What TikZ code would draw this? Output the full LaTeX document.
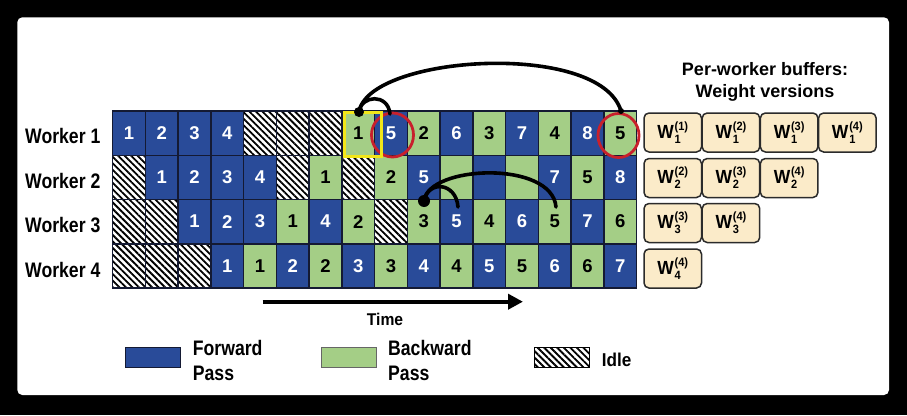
\documentclass[tikz,border=0pt]{standalone}
\usepackage{fontspec}
\setmainfont{Liberation Sans}
\newfontfamily\cond[FakeStretch=0.84]{Liberation Sans}
\newfontfamily\condm[FakeStretch=0.92]{Liberation Sans}
\usetikzlibrary{patterns.meta,arrows.meta,shapes.geometric}
\definecolor{fwd}{HTML}{294B99}
\definecolor{bwd}{HTML}{A4CE86}
\definecolor{gridc}{HTML}{141A33}
\definecolor{bufc}{HTML}{FBEBC9}
\definecolor{bufline}{HTML}{2B2B2B}
\definecolor{redc}{HTML}{C8202C}
\definecolor{yel}{HTML}{F2E619}
\newcommand\wv[2]{W\kern0.8pt\raisebox{-5pt}{\makebox[0pt][l]{\fontsize{12}{12}\selectfont#1}}\raisebox{8pt}{\fontsize{12}{12}\selectfont(#2)}}
\begin{document}
\begin{tikzpicture}[x=1pt,y=-1pt,
  cell/.style={draw=gridc,line width=1.5pt,minimum width=32.75pt,minimum height=44.25pt,inner sep=0pt,outer sep=0pt,font=\bfseries\fontsize{18.5}{18.5}\selectfont},
  cellf/.style={cell,fill=fwd,text=white},
  cellb/.style={cell,fill=bwd,text=black},
  celli/.style={cell,pattern={Lines[angle=-45,distance=4.6pt,line width=1.8pt]},pattern color=black},
  bufbox/.style={draw=bufline,fill=bufc,line width=1.5pt,rounded corners=5pt,minimum width=57.5pt,minimum height=39pt,inner sep=0pt,font=\condm\bfseries\fontsize{19}{19}\selectfont},
  wlabel/.style={anchor=base west,inner sep=0pt,font=\cond\bfseries\fontsize{21}{21}\selectfont},
  legtext/.style={anchor=base west,inner sep=0pt,align=left,font=\cond\bfseries\fontsize{21}{25.7}\selectfont},
  arc/.style={line width=3.6pt,line cap=round,draw=black},
  dotn/.style={circle,fill=black,inner sep=0pt}]
\useasboundingbox (0,0) rectangle (907,415);
\fill[black] (0,0) rectangle (907,415);
\fill[white,rounded corners=5pt] (17.3,17.3) rectangle (889,395);
% grid
\foreach \rowlist [count=\r] in {
 {f/1,f/2,f/3,f/4,i/{},i/{},i/{},b/1,f/5,b/2,f/6,b/3,f/7,b/4,f/8,b/5},
 {i/{},f/1,f/2,f/3,f/4,i/{},b/1,i/{},b/2,f/5,b/{},f/{},b/{},f/7,b/5,f/8},
 {i/{},i/{},f/1,f/2,f/3,b/1,f/4,b/2,i/{},b/3,f/5,b/4,f/6,b/5,f/7,b/6},
 {i/{},i/{},i/{},f/1,b/1,f/2,b/2,f/3,b/3,f/4,b/4,f/5,b/5,f/6,b/6,f/7}}{
  \foreach \k/\l [count=\c from 0] in \rowlist {
    \node[cell\k] (c-\r-\c) at ({112.7+32.75*(\c+0.5)},{111+44.25*(\r-0.5)}) {\l};
  }
}
% worker labels
\node[wlabel] (w1) at (25,143.3) {Worker 1};
\node[wlabel] (w2) at (25,188) {Worker 2};
\node[wlabel] (w3) at (25,232.3) {Worker 3};
\node[wlabel] (w4) at (25,277) {Worker 4};
% highlights
\node[draw=redc,line width=2.8pt,ellipse,minimum width=42pt,minimum height=44pt,inner sep=0pt] (r1) at (392.5,135) {};
\node[draw=redc,line width=2.8pt,ellipse,minimum width=41pt,minimum height=44pt,inner sep=0pt] (r2) at (618.5,135.5) {};
\node[draw=yel,line width=3.6pt,minimum width=37pt,minimum height=44pt,inner sep=0pt] (y1) at (363,134.5) {};
% arcs
\node[dotn,minimum size=10pt] (d1) at (359,112) {};
\node[dotn,minimum size=6pt] (d2) at (621,111) {};
\coordinate (e2) at (390,114);
\draw[arc] (d1.center) .. controls (368,55) and (600,40) .. (d2.center);
\draw[arc] (d1.center) .. controls (361,95) and (388,93) .. (e2);
\node[dotn,minimum size=12pt] (d3) at (424,201) {};
\coordinate (e3) at (458,207);
\coordinate (e4) at (556,207);
\draw[arc] (d3.center) .. controls (428,180) and (456,182) .. (e3);
\draw[arc] (d3.center) .. controls (428,165) and (552,160) .. (e4);
% buffers
\node[align=center,inner sep=0pt,anchor=base,font=\bfseries\fontsize{18}{22.7}\selectfont] (title) at (765,97.7) {Per-worker buffers:\\Weight versions};
\foreach \r/\n/\yc in {1/4/132.5,2/3/178,3/2/223,4/1/268.5}{
  \foreach \j in {1,...,\n}{
    \pgfmathtruncatemacro\v{\r+\j-1}
    \node[bufbox] (b-\r-\j) at ({672.75+58.2*(\j-1)},\yc) {\wv{\r}{\v}};
  }
}
% time arrow
\coordinate (ts) at (262.7,301.7);
\coordinate (te) at (523,301.7);
\draw[line width=4pt,-{Triangle[length=15pt,width=15pt]}] (ts) -- (te);
\node[anchor=base,inner sep=0pt,font=\condm\bfseries\fontsize{17}{17}\selectfont] (time) at (385,325) {Time};
% legend
\node[draw=gridc,line width=1pt,fill=fwd,minimum width=54.7pt,minimum height=20pt,inner sep=0pt] (lf) at (153.3,357) {};
\node[legtext] (lft) at (192.7,380.7) {Forward\\Pass};
\node[draw=black!60,line width=1pt,fill=bwd,minimum width=55pt,minimum height=20pt,inner sep=0pt] (lb) at (348.5,357) {};
\node[legtext] (lbt) at (388,380.7) {Backward\\Pass};
\node[draw=black,line width=0.8pt,pattern={Lines[angle=-45,distance=4.6pt,line width=1.8pt]},pattern color=black,minimum width=55pt,minimum height=20pt,inner sep=0pt] (li) at (561.5,357) {};
\node[anchor=base west,inner sep=0pt,font=\condm\bfseries\fontsize{18.6}{18.6}\selectfont] (lit) at (601.7,366) {Idle};
\end{tikzpicture}
\end{document}
